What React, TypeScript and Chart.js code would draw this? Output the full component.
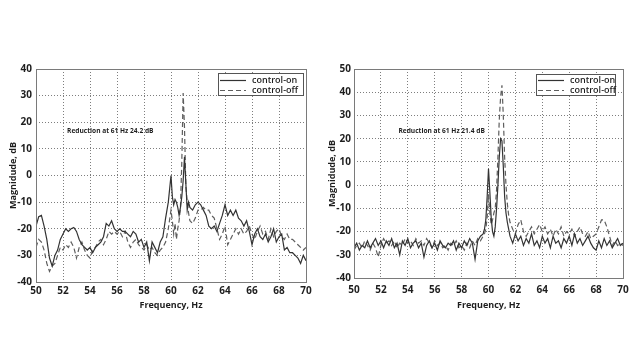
import React, { useEffect, useRef } from "react";
import { Chart, registerables } from "chart.js";

Chart.register(...registerables);

const FONT = "'Open Sans', 'Noto Sans', sans-serif";

const legendLabels = ["control-on", "control-off"];
const xTitle = "Frequency, Hz";
const yTitle = "Magnidude, dB";
const noteL = "Reduction at 61 Hz 24.2 dB";
const noteR = "Reduction at 61 Hz 21.4 dB";

// Left chart
const freqL = [
  50.0, 50.2, 50.4, 50.6, 50.8, 51.0, 51.2, 51.4, 51.6, 51.8,
  52.0, 52.2, 52.4, 52.6, 52.8, 53.0, 53.2, 53.4, 53.6, 53.8,
  54.0, 54.2, 54.4, 54.6, 54.8, 55.0, 55.2, 55.4, 55.6, 55.8,
  56.0, 56.2, 56.4, 56.6, 56.8, 57.0, 57.2, 57.4, 57.6, 57.8,
  58.0, 58.2, 58.4, 58.6, 58.8, 59.0, 59.2, 59.4, 59.6, 59.8,
  60.0, 60.1, 60.2, 60.3, 60.4, 60.5, 60.6, 60.7, 60.8, 60.9, 61.0, 61.1, 61.2, 61.3,
  61.4, 61.6, 61.8, 62.0, 62.2, 62.4, 62.6, 62.8, 63.0, 63.2, 63.4, 63.6, 63.8,
  64.0, 64.2, 64.4, 64.6, 64.8, 65.0, 65.2, 65.4, 65.6, 65.8,
  66.0, 66.2, 66.4, 66.6, 66.8, 67.0, 67.2, 67.4, 67.6, 67.8,
  68.0, 68.2, 68.4, 68.6, 68.8, 69.0, 69.2, 69.4, 69.6, 69.8, 70.0,
];
const onL = [
  -19, -15.5, -15, -19, -24, -31, -34, -30, -28, -24,
  -22, -20, -21, -20, -19.5, -21, -24, -26, -27, -28,
  -27, -29, -27, -26, -25, -23, -18, -19, -17, -20,
  -21, -20, -21, -21, -22, -23, -21, -22, -25, -24,
  -27, -25, -32, -25, -27, -29, -25, -23, -16, -10,
  0, -8, -11, -9, -10, -12, -15, -12, -8, -2, 7, -3, -13, -10,
  -12, -13, -11, -10, -11, -13, -15, -19, -20, -19, -21, -18, -15,
  -11, -15, -13, -15, -13, -16, -17, -19, -17, -21,
  -26, -22, -20, -23, -24, -22, -25, -23, -20, -25,
  -23, -22, -28, -27, -29, -29, -30, -31, -33, -30, -32,
];
const offL = [
  -27, -24, -25, -28, -33, -36, -34, -33, -30, -27,
  -28, -26, -27, -25, -27, -31, -27, -25, -28, -30,
  -31, -28, -27, -25, -24, -26, -24, -21, -22, -21,
  -22, -21, -23, -21, -25, -27, -25, -24, -26, -27,
  -28, -26, -28, -27, -29, -30, -28, -27, -25, -20,
  -13, -17, -22, -18, -24, -20, -17, -12, 5, 31, 18, -4, -10, -14,
  -17, -18, -16, -13, -13, -12, -13, -13, -15, -16, -20, -24, -22,
  -19, -26, -24, -22, -20, -22, -20, -22, -21, -19,
  -22, -24, -21, -19, -22, -21, -24, -20, -23, -21,
  -20, -23, -24, -22, -24, -24, -25, -26, -27, -28, -27,
];

// Right chart
const freqR = [
  50.0, 50.2, 50.4, 50.6, 50.8, 51.0, 51.2, 51.4, 51.6, 51.8,
  52.0, 52.2, 52.4, 52.6, 52.8, 53.0, 53.2, 53.4, 53.6, 53.8,
  54.0, 54.2, 54.4, 54.6, 54.8, 55.0, 55.2, 55.4, 55.6, 55.8,
  56.0, 56.2, 56.4, 56.6, 56.8, 57.0, 57.2, 57.4, 57.6, 57.8,
  58.0, 58.2, 58.4, 58.6, 58.8, 59.0, 59.2, 59.4,
  59.6, 59.7, 59.8, 59.9, 60.0, 60.1, 60.2, 60.3, 60.4, 60.5, 60.6,
  60.7, 60.8, 60.9, 61.0, 61.1, 61.2, 61.3, 61.4, 61.5, 61.6,
  61.8, 62.0, 62.2, 62.4, 62.6, 62.8, 63.0, 63.2, 63.4, 63.6, 63.8,
  64.0, 64.2, 64.4, 64.6, 64.8, 65.0, 65.2, 65.4, 65.6, 65.8,
  66.0, 66.2, 66.4, 66.6, 66.8, 67.0, 67.2, 67.4, 67.6, 67.8,
  68.0, 68.2, 68.4, 68.6, 68.8, 69.0, 69.2, 69.4, 69.6, 69.8, 70.0,
];
const onR = [
  -27, -25, -28, -26, -27, -24, -27, -25, -23, -26,
  -24, -27, -24, -26, -23, -27, -25, -30, -24, -26,
  -23, -27, -25, -24, -27, -25, -31, -26, -24, -27,
  -25, -28, -24, -26, -27, -25, -26, -24, -28, -25,
  -27, -24, -26, -23, -25, -32, -24, -22,
  -21, -19, -15, -5, 7, -3, -14, -20, -22, -18, -10,
  0, 12, 20, 19, 8, -5, -12, -16, -19, -22,
  -25, -21, -24, -22, -26, -23, -25, -21, -26, -24, -27,
  -22, -25, -23, -27, -22, -25, -24, -27, -23, -25,
  -22, -26, -21, -25, -23, -26, -24, -22, -25, -27,
  -28, -24, -27, -23, -26, -24, -27, -25, -23, -26, -25,
];
const offR = [
  -28, -26, -25, -27, -24, -26, -28, -25, -27, -31,
  -26, -23, -25, -24, -26, -24, -27, -25, -26, -23,
  -25, -24, -26, -23, -25, -24, -26, -23, -25, -27,
  -24, -26, -25, -27, -26, -28, -25, -26, -24, -27,
  -26, -28, -25, -27, -24, -26, -23, -24,
  -22, -21, -19, -14, -4, -12, -17, -15, -12, -10, -2,
  12, 28, 38, 43, 30, 12, 0, -8, -13, -16,
  -19, -21, -17, -15, -20, -22, -20, -18, -21, -19, -17,
  -20, -18, -21, -19, -22, -19, -21, -18, -22, -20,
  -21, -19, -22, -20, -18, -21, -22, -20, -23, -22,
  -21, -18, -15, -15, -18, -22, -26, -24, -26, -25, -26,
];

type Panel = {
  freq: number[];
  on: number[];
  off: number[];
  yMin: number;
  yMax: number;
  note: string;
  noteX: number;
  noteY: number;
  padRight: number;
  padBottom: number;
  yW: number;
  xH: number;
  yTitlePad: number;
  xTickPad: number;
  yTickPad: number;
  legendRight: number;
  legendTop: number;
  legendW: number;
  legendH: number;
  legendRow0: number;
};

const framePlugin = {
  id: "frame",
  afterDatasetsDraw(chart: any) {
    const { ctx, chartArea: a } = chart;
    ctx.save();
    ctx.strokeStyle = "#7a7a7a";
    ctx.lineWidth = 1;
    ctx.strokeRect(Math.round(a.left) + 0.5, Math.round(a.top) + 0.5, Math.round(a.right - a.left), Math.round(a.bottom - a.top));
    ctx.restore();
  },
};

function legendPlugin(p: Panel) {
  return {
    id: "customLegend",
    afterDraw(chart: any) {
      const { ctx, chartArea: a } = chart;
      const x = Math.round(a.right - p.legendRight - p.legendW);
      const y = Math.round(a.top + p.legendTop);
      ctx.save();
      ctx.fillStyle = "#ffffff";
      ctx.fillRect(x, y, p.legendW, p.legendH);
      ctx.strokeStyle = "#555555";
      ctx.lineWidth = 1;
      ctx.strokeRect(x + 0.5, y + 0.5, p.legendW - 1, p.legendH - 1);
      chart.data.datasets.forEach((ds: any, i: number) => {
        const ly = y + p.legendRow0 + i * 10 + 0.5;
        ctx.beginPath();
        ctx.setLineDash(ds.borderDash || []);
        ctx.strokeStyle = ds.borderColor;
        ctx.lineWidth = 1.2;
        ctx.moveTo(x + 2, ly);
        ctx.lineTo(x + 28, ly);
        ctx.stroke();
        ctx.setLineDash([]);
        ctx.fillStyle = "#1e1e1e";
        ctx.font = `600 9px ${FONT}`;
        ctx.textBaseline = "middle";
        ctx.textAlign = "left";
        ctx.fillText(ds.label, x + 34, ly);
      });
      ctx.restore();
    },
  };
}

function notePlugin(p: Panel) {
  return {
    id: "note",
    afterDraw(chart: any) {
      const { ctx, scales } = chart;
      const px = scales.x.getPixelForValue(p.noteX);
      const py = scales.y.getPixelForValue(p.noteY);
      ctx.save();
      ctx.fillStyle = "#1e1e1e";
      ctx.font = `700 6.6px ${FONT}`;
      ctx.textBaseline = "middle";
      ctx.textAlign = "left";
      ctx.fillText(p.note, px, py);
      ctx.restore();
    },
  };
}

function makeConfig(p: Panel): any {
  const pts = (v: number[]) => p.freq.map((x, i) => ({ x, y: v[i] }));
  const tickFont = { family: FONT, size: 10, weight: 700 };
  const titleFont = { family: FONT, size: 9, weight: 700 };
  return {
    type: "line",
    data: {
      datasets: [
        {
          label: legendLabels[0],
          data: pts(p.on),
          borderColor: "#333333",
          borderWidth: 1.2,
          pointRadius: 0,
          tension: 0,
          fill: false,
        },
        {
          label: legendLabels[1],
          data: pts(p.off),
          borderColor: "#5e5e5e",
          borderWidth: 1.2,
          borderDash: [5, 3],
          pointRadius: 0,
          tension: 0,
          fill: false,
        },
      ],
    },
    options: {
      animation: false,
      responsive: false,
      maintainAspectRatio: false,
      layout: { padding: { left: 0, right: p.padRight, top: 69, bottom: p.padBottom } },
      plugins: { legend: { display: false }, tooltip: { enabled: false } },
      scales: {
        x: {
          type: "linear",
          min: 50,
          max: 70,
          ticks: { stepSize: 2, padding: p.xTickPad, font: tickFont, color: "#1e1e1e", maxRotation: 0, autoSkip: false },
          grid: { color: "#7e7e7e", lineWidth: 1, drawTicks: false },
          border: { display: false, dash: [1, 2] },
          title: { display: true, text: xTitle, font: titleFont, color: "#1e1e1e", padding: { top: 0, bottom: 6 } },
          afterFit: (s: any) => {
            s.height = p.xH;
          },
        },
        y: {
          type: "linear",
          min: p.yMin,
          max: p.yMax,
          ticks: { stepSize: 10, padding: p.yTickPad, font: tickFont, color: "#1e1e1e" },
          grid: { color: "#7e7e7e", lineWidth: 1, drawTicks: false },
          border: { display: false, dash: [1, 2] },
          title: { display: true, text: yTitle, font: titleFont, color: "#1e1e1e", padding: { top: p.yTitlePad, bottom: 0 } },
          afterFit: (s: any) => {
            s.width = p.yW;
          },
        },
      },
    },
    plugins: [framePlugin, legendPlugin(p), notePlugin(p)],
  };
}

const leftPanel: Panel = {
  freq: freqL,
  on: onL,
  off: offL,
  yMin: -40,
  yMax: 40,
  note: noteL,
  noteX: 52.3,
  noteY: 16.7,
  padRight: 15,
  padBottom: 44,
  yW: 36,
  xH: 35,
  yTitlePad: 8,
  xTickPad: 3,
  yTickPad: 4,
  legendRight: 2,
  legendTop: 4,
  legendW: 86,
  legendH: 23,
  legendRow0: 7,
};

const rightPanel: Panel = {
  freq: freqR,
  on: onR,
  off: offR,
  yMin: -40,
  yMax: 50,
  note: noteR,
  noteX: 53.3,
  noteY: 23.4,
  padRight: 19,
  padBottom: 44,
  yW: 33,
  xH: 39,
  yTitlePad: 6,
  xTickPad: 6,
  yTickPad: 3,
  legendRight: 7,
  legendTop: 5,
  legendW: 80,
  legendH: 22,
  legendRow0: 6,
};

function ChartPanel({ panel, left }: { panel: Panel; left: number }) {
  const ref = useRef<HTMLCanvasElement | null>(null);
  useEffect(() => {
    if (!ref.current) return;
    const chart = new Chart(ref.current, makeConfig(panel));
    return () => chart.destroy();
  }, [panel]);
  return (
    <canvas
      ref={ref}
      width={321}
      height={361}
      style={{ position: "absolute", left, top: 0, width: 321, height: 361 }}
    />
  );
}

export default function App() {
  return (
    <div
      style={{
        position: "fixed",
        left: 0,
        top: 0,
        width: 642,
        height: 361,
        background: "#ffffff",
        overflow: "hidden",
      }}
    >
      <ChartPanel panel={leftPanel} left={0} />
      <ChartPanel panel={rightPanel} left={321} />
    </div>
  );
}
